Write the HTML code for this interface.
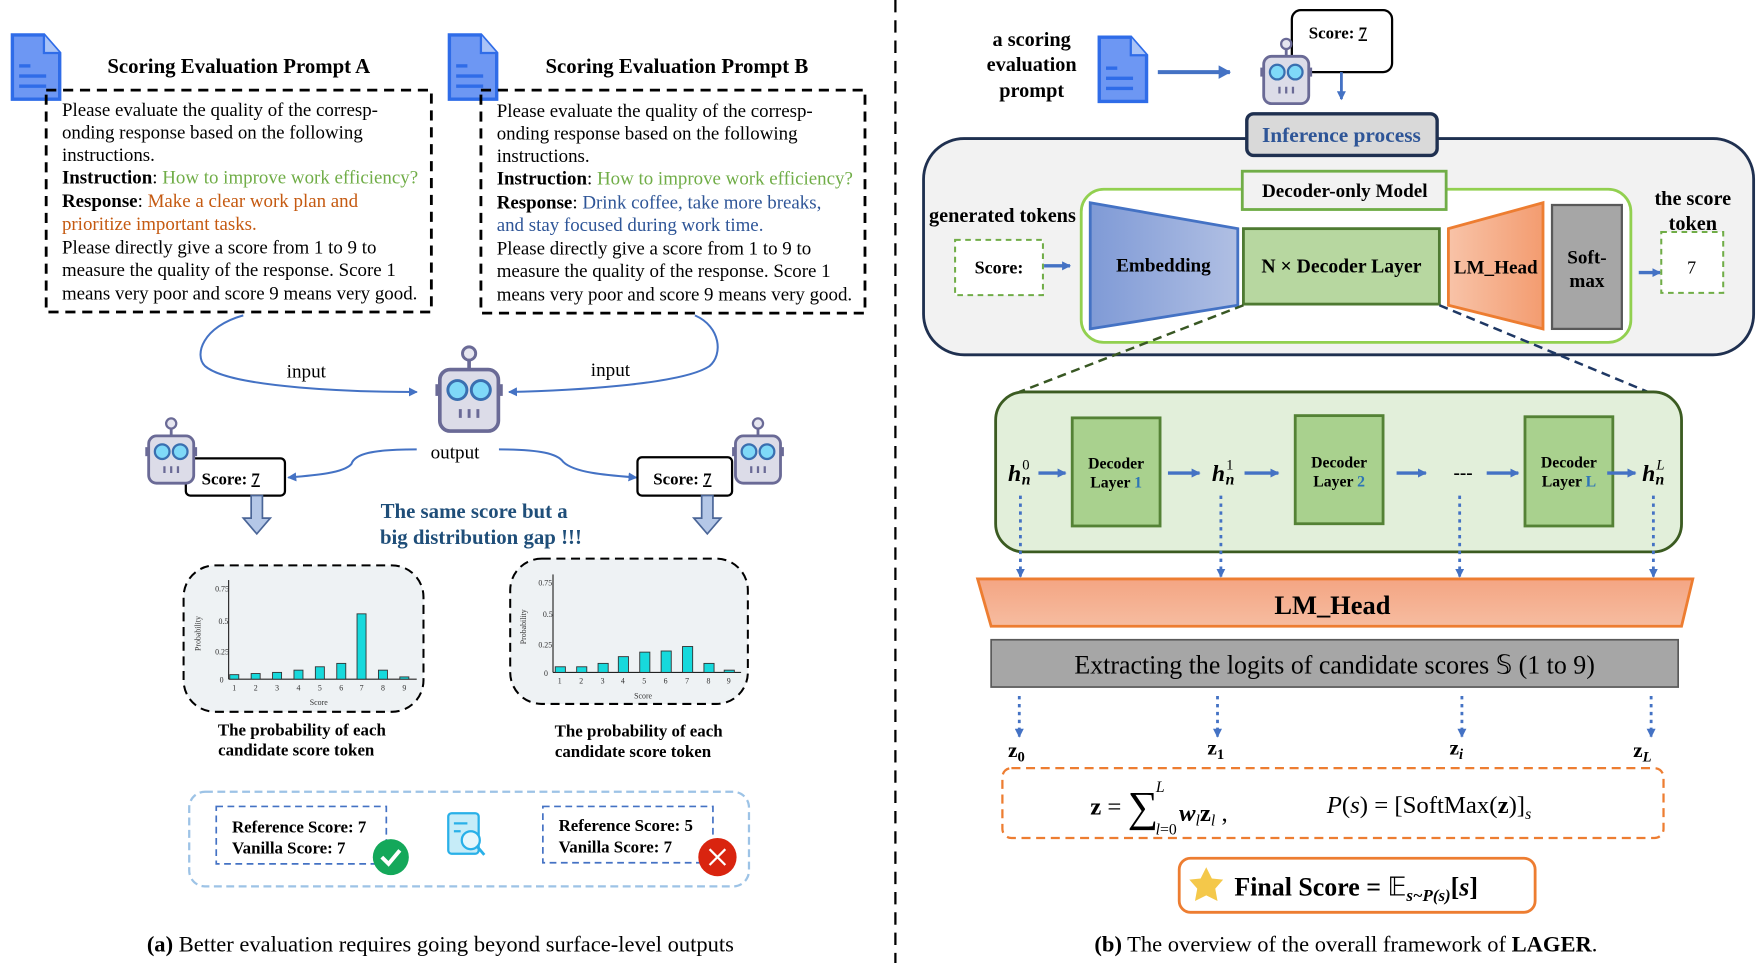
<!DOCTYPE html>
<html><head><meta charset="utf-8"><style>
html,body{margin:0;padding:0;background:#fff;}
svg{display:block;}
text{font-family:"Liberation Serif",serif;}
</style></head><body>
<svg width="1757" height="963" viewBox="0 0 1560 855" xmlns="http://www.w3.org/2000/svg">
<defs>
<marker id="ab" markerWidth="8" markerHeight="8" refX="7" refY="4" orient="auto" markerUnits="userSpaceOnUse"><path d="M0,0 L8,4 L0,8 z" fill="#4472c4"/></marker>
<marker id="ab2" markerWidth="12" markerHeight="12" refX="10" refY="6" orient="auto" markerUnits="userSpaceOnUse"><path d="M0,0 L11,6 L0,12 z" fill="#4472c4"/></marker>
<linearGradient id="emb" x1="0" x2="1"><stop offset="0" stop-color="#7f9ad6"/><stop offset="1" stop-color="#b0bfe3"/></linearGradient>
<linearGradient id="lmh" x1="0" x2="1"><stop offset="0" stop-color="#f8c3a8"/><stop offset="1" stop-color="#f39c70"/></linearGradient>
<linearGradient id="lmh2" x1="0" y1="0" x2="0" y2="1"><stop offset="0" stop-color="#f4a583"/><stop offset="1" stop-color="#f6bca0"/></linearGradient>
<g id="doc"><path d="M0,0 H28 L42,16 V57 H0 Z" fill="#6d97f3" stroke="#2f6ce8" stroke-width="3"/><path d="M28,0 V16 H42" fill="#a9c3f7" stroke="#2f6ce8" stroke-width="2"/><rect x="6" y="26" width="10" height="3" fill="#2f6ce8"/><rect x="6" y="35" width="24" height="3" fill="#2f6ce8"/><rect x="6" y="44" width="24" height="3" fill="#2f6ce8"/></g>
<g id="robot"><line x1="25" y1="8" x2="25" y2="18" stroke="#6a6a96" stroke-width="2.5"/><circle cx="25" cy="6" r="4.5" fill="#e6e6f0" stroke="#6a6a96" stroke-width="2"/><rect x="2" y="27" width="4" height="8" fill="#6a6a96"/><rect x="44" y="27" width="4" height="8" fill="#6a6a96"/><rect x="5" y="17" width="40" height="42" rx="7" fill="#dcdce8" stroke="#6a6a96" stroke-width="2.5"/><circle cx="17" cy="31" r="6.5" fill="#7fd9f8" stroke="#3a6fb0" stroke-width="2"/><circle cx="33" cy="31" r="6.5" fill="#7fd9f8" stroke="#3a6fb0" stroke-width="2"/><path d="M19,44v6M25,44v6M31,44v6" stroke="#6a6a96" stroke-width="2"/></g>
</defs>

<!-- ===== LEFT PANEL ===== -->
<use href="#doc" x="11" y="31"/>
<use href="#doc" x="399" y="31"/>
<text x="212" y="65" font-size="18.5" font-weight="bold" text-anchor="middle">Scoring Evaluation Prompt A</text>
<text x="601" y="65" font-size="18.5" font-weight="bold" text-anchor="middle">Scoring Evaluation Prompt B</text>
<rect x="41" y="80" width="342" height="197" fill="none" stroke="#000" stroke-width="2.5" stroke-dasharray="9,6"/>
<rect x="427" y="80" width="341" height="198" fill="none" stroke="#000" stroke-width="2.5" stroke-dasharray="9,6"/>
<g font-size="16.8">
<text x="55" y="103">Please evaluate the quality of the corresp-</text>
<text x="55" y="123">onding response based on the following</text>
<text x="55" y="143">instructions.</text>
<text x="55" y="163"><tspan font-weight="bold">Instruction</tspan>: <tspan fill="#70ad47">How to improve work efficiency?</tspan></text>
<text x="55" y="184"><tspan font-weight="bold">Response</tspan>: <tspan fill="#c55a11">Make a clear work plan and</tspan></text>
<text x="55" y="204" fill="#c55a11">prioritize important tasks.</text>
<text x="55" y="225">Please directly give a score from 1 to 9 to</text>
<text x="55" y="245">measure the quality of the response. Score 1</text>
<text x="55" y="266">means very poor and score 9 means very good.</text>
<text x="441" y="104">Please evaluate the quality of the corresp-</text>
<text x="441" y="124">onding response based on the following</text>
<text x="441" y="144">instructions.</text>
<text x="441" y="164"><tspan font-weight="bold">Instruction</tspan>: <tspan fill="#70ad47">How to improve work efficiency?</tspan></text>
<text x="441" y="185"><tspan font-weight="bold">Response</tspan>: <tspan fill="#2e5597">Drink coffee, take more breaks,</tspan></text>
<text x="441" y="205" fill="#2e5597">and stay focused during work time.</text>
<text x="441" y="226">Please directly give a score from 1 to 9 to</text>
<text x="441" y="246">measure the quality of the response. Score 1</text>
<text x="441" y="267">means very poor and score 9 means very good.</text>
</g>
<path d="M216,280 C180,290 172,315 182,325 C205,345 320,348 370,348" fill="none" stroke="#4472c4" stroke-width="1.8" marker-end="url(#ab)"/>
<path d="M617,280 C640,290 642,315 630,325 C605,342 500,347 452,348" fill="none" stroke="#4472c4" stroke-width="1.8" marker-end="url(#ab)"/>
<text x="272" y="335" font-size="17" text-anchor="middle">input</text>
<text x="542" y="334" font-size="17" text-anchor="middle">input</text>
<use href="#robot" x="384" y="306" transform="translate(384,306) scale(1.3) translate(-384,-306)"/>
<text x="404" y="407" font-size="17" text-anchor="middle">output</text>
<path d="M370,399 C330,399 315,403 312,412 C305,420 280,422 256,424" fill="none" stroke="#4472c4" stroke-width="1.8" marker-end="url(#ab)"/>
<path d="M443,399 C480,399 495,403 500,410 C510,420 540,422 565,424" fill="none" stroke="#4472c4" stroke-width="1.8" marker-end="url(#ab)"/>
<rect x="165" y="407" width="88" height="33" rx="4" fill="#fff" stroke="#000" stroke-width="2"/>
<text x="179" y="430" font-size="15" font-weight="bold">Score: <tspan text-decoration="underline">7</tspan></text>
<rect x="566" y="406" width="84" height="34" rx="4" fill="#fff" stroke="#000" stroke-width="2"/>
<text x="580" y="430" font-size="15" font-weight="bold">Score: <tspan text-decoration="underline">7</tspan></text>
<use href="#robot" x="127" y="370"/>
<use href="#robot" x="648" y="370"/>
<path d="M223,440 h10 v20 h7 l-12,14 l-12,-14 h7 z" fill="#b4c7e7" stroke="#4a6597" stroke-width="1.5"/>
<path d="M623,440 h10 v20 h7 l-12,14 l-12,-14 h7 z" fill="#b4c7e7" stroke="#4a6597" stroke-width="1.5"/>
<text x="421" y="460" font-size="18.5" font-weight="bold" fill="#1f4e79" text-anchor="middle">The same score but a</text>
<text x="427" y="483" font-size="18.5" font-weight="bold" fill="#1f4e79" text-anchor="middle">big distribution gap !!!</text>

<!-- charts -->
<rect x="163" y="502" width="213" height="130" rx="28" fill="#eef2f4" stroke="#000" stroke-width="1.8" stroke-dasharray="8,5"/>
<rect x="453" y="496" width="211" height="129" rx="28" fill="#eef2f4" stroke="#000" stroke-width="1.8" stroke-dasharray="8,5"/>
<g font-family="Liberation Sans" font-size="7" fill="#333">
<line x1="203" y1="515" x2="203" y2="603" stroke="#222"/><line x1="203" y1="603" x2="370" y2="603" stroke="#222"/>
<text x="191" y="525">0.75</text><text x="194" y="554">0.5</text><text x="191" y="581">0.25</text><text x="195" y="606">0</text>
<text x="178" y="578" transform="rotate(-90 178 578)">Probability</text>
<text x="283" y="626" text-anchor="middle">Score</text>
<line x1="491" y1="510" x2="491" y2="597" stroke="#222"/><line x1="491" y1="597" x2="658" y2="597" stroke="#222"/>
<text x="478" y="520">0.75</text><text x="482" y="548">0.5</text><text x="478" y="575">0.25</text><text x="483" y="600">0</text>
<text x="467" y="572" transform="rotate(-90 467 572)">Probability</text>
<text x="571" y="620" text-anchor="middle">Score</text>
</g>
<g fill="#17d9dc" stroke="#333" stroke-width="0.8">
<rect x="204" y="599" width="8" height="4"/><rect x="223" y="598" width="8" height="5"/><rect x="242" y="597" width="8" height="6"/><rect x="261" y="595" width="8" height="8"/><rect x="280" y="592" width="8" height="11"/><rect x="299" y="589" width="8" height="14"/><rect x="317" y="545" width="8" height="58"/><rect x="336" y="595" width="8" height="8"/><rect x="355" y="601" width="8" height="2"/>
</g>
<g font-family="Liberation Sans" font-size="7" fill="#333" text-anchor="middle">
<text x="208" y="613">1</text><text x="227" y="613">2</text><text x="246" y="613">3</text><text x="265" y="613">4</text><text x="284" y="613">5</text><text x="303" y="613">6</text><text x="321" y="613">7</text><text x="340" y="613">8</text><text x="359" y="613">9</text>
<text x="497" y="607">1</text><text x="516" y="607">2</text><text x="535" y="607">3</text><text x="553" y="607">4</text><text x="572" y="607">5</text><text x="591" y="607">6</text><text x="610" y="607">7</text><text x="629" y="607">8</text><text x="647" y="607">9</text>
</g>
<g fill="#17d9dc" stroke="#333" stroke-width="0.8">
<rect x="493" y="592" width="9" height="5"/><rect x="512" y="592" width="9" height="5"/><rect x="531" y="589" width="9" height="8"/><rect x="549" y="583" width="9" height="14"/><rect x="568" y="579" width="9" height="18"/><rect x="587" y="578" width="9" height="19"/><rect x="606" y="574" width="9" height="23"/><rect x="625" y="589" width="9" height="8"/><rect x="643" y="595" width="9" height="2"/>
</g>
<text x="268" y="653" font-size="15" font-weight="bold" text-anchor="middle">The probability of each</text>
<text x="263" y="671" font-size="15" font-weight="bold" text-anchor="middle">candidate score token</text>
<text x="567" y="654" font-size="15" font-weight="bold" text-anchor="middle">The probability of each</text>
<text x="562" y="672" font-size="15" font-weight="bold" text-anchor="middle">candidate score token</text>

<rect x="168" y="703" width="497" height="84" rx="14" fill="none" stroke="#9dc3e6" stroke-width="2" stroke-dasharray="7,4"/>
<rect x="192" y="716" width="151" height="51" fill="none" stroke="#4472c4" stroke-width="1.5" stroke-dasharray="6,4"/>
<rect x="482" y="716" width="151" height="50" fill="none" stroke="#4472c4" stroke-width="1.5" stroke-dasharray="6,4"/>
<text x="206" y="739" font-size="15" font-weight="bold">Reference Score: 7</text>
<text x="206" y="758" font-size="15" font-weight="bold">Vanilla Score: 7</text>
<text x="496" y="738" font-size="15" font-weight="bold">Reference Score: 5</text>
<text x="496" y="757" font-size="15" font-weight="bold">Vanilla Score: 7</text>
<circle cx="347" cy="761" r="16" fill="#14a85a"/><path d="M339,761 l6,6 l10,-12" fill="none" stroke="#fff" stroke-width="3.5"/>
<circle cx="637" cy="761" r="17" fill="#d9240f"/><path d="M630,754 l14,14 M644,754 l-14,14" stroke="#fff" stroke-width="2"/>
<rect x="398" y="722" width="27" height="36" rx="3" fill="#c6ecf8" stroke="#29b0e8" stroke-width="2"/>
<path d="M403,731h12M403,738h6" stroke="#29b0e8" stroke-width="2"/>
<circle cx="418" cy="746" r="8" fill="#e6f7fc" stroke="#29b0e8" stroke-width="2"/><path d="M424,752l6,7" stroke="#29b0e8" stroke-width="2.5"/>
<text x="391" y="845" font-size="20" text-anchor="middle"><tspan font-weight="bold">(a)</tspan> Better evaluation requires going beyond surface-level outputs</text>

<line x1="795" y1="0" x2="795" y2="855" stroke="#000" stroke-width="2" stroke-dasharray="11,7"/>

<!-- ===== RIGHT PANEL ===== -->
<g font-size="18" font-weight="bold" text-anchor="middle">
<text x="916" y="41">a scoring</text><text x="916" y="63">evaluation</text><text x="916" y="86">prompt</text></g>
<use href="#doc" x="976" y="33"/>
<line x1="1028" y1="64" x2="1092" y2="64" stroke="#4472c4" stroke-width="3.5" marker-end="url(#ab2)"/>
<rect x="1147" y="9" width="89" height="55" rx="8" fill="#fff" stroke="#000" stroke-width="2"/>
<text x="1162" y="34" font-size="15" font-weight="bold">Score: <tspan text-decoration="underline">7</tspan></text>
<use href="#robot" x="1117" y="33"/>
<line x1="1191" y1="64" x2="1191" y2="88" stroke="#4472c4" stroke-width="2.5" marker-end="url(#ab)"/>
<rect x="820" y="123" width="737" height="192" rx="36" fill="#f2f2f2" stroke="#1f3050" stroke-width="2.5"/>
<rect x="1107" y="101" width="169" height="37" rx="6" fill="#d9d9d9" stroke="#1f3050" stroke-width="3"/>
<text x="1191" y="126" font-size="19" font-weight="bold" fill="#2e5597" text-anchor="middle">Inference process</text>
<rect x="960" y="168" width="488" height="136" rx="20" fill="#fff" stroke="#92d050" stroke-width="2.5"/>
<rect x="1103" y="152" width="181" height="34" fill="#f2f2f2" stroke="#70ad47" stroke-width="2.5"/>
<text x="1194" y="175" font-size="17" font-weight="bold" text-anchor="middle">Decoder-only Model</text>
<text x="890" y="197" font-size="18" font-weight="bold" text-anchor="middle">generated tokens</text>
<rect x="848" y="213" width="78" height="49" fill="#fff" stroke="#70ad47" stroke-width="1.8" stroke-dasharray="5,4"/>
<text x="887" y="243" font-size="16" font-weight="bold" text-anchor="middle">Score:</text>
<line x1="927" y1="236" x2="950" y2="236" stroke="#4472c4" stroke-width="3" marker-end="url(#ab)"/>
<path d="M968,180 L1099,203 L1099,271 L968,292 Z" fill="url(#emb)" stroke="#4472c4" stroke-width="2.5"/>
<text x="1033" y="241" font-size="17" font-weight="bold" text-anchor="middle">Embedding</text>
<rect x="1104" y="203" width="174" height="67" fill="#b7d7a0" stroke="#4e7a32" stroke-width="2.5"/>
<text x="1191" y="242" font-size="17.5" font-weight="bold" text-anchor="middle">N ×  Decoder Layer</text>
<path d="M1286,203 L1370,180 L1370,292 L1286,271 Z" fill="url(#lmh)" stroke="#ed7d31" stroke-width="2.5"/>
<text x="1328" y="243" font-size="17" font-weight="bold" text-anchor="middle">LM_Head</text>
<rect x="1378" y="182" width="62" height="110" fill="#a6a6a6" stroke="#595959" stroke-width="2"/>
<text x="1409" y="234" font-size="17" font-weight="bold" text-anchor="middle">Soft-</text>
<text x="1409" y="255" font-size="17" font-weight="bold" text-anchor="middle">max</text>
<text x="1503" y="182" font-size="18" font-weight="bold" text-anchor="middle">the score</text>
<text x="1503" y="204" font-size="18" font-weight="bold" text-anchor="middle">token</text>
<line x1="1455" y1="242" x2="1474" y2="242" stroke="#4472c4" stroke-width="3" marker-end="url(#ab)"/>
<rect x="1475" y="206" width="55" height="54" fill="#fff" stroke="#70ad47" stroke-width="1.8" stroke-dasharray="5,4"/>
<text x="1502" y="243" font-size="16" text-anchor="middle">7</text>
<line x1="1104" y1="271" x2="905" y2="348" stroke="#385723" stroke-width="2.2" stroke-dasharray="8,5"/>
<line x1="1278" y1="271" x2="1480" y2="355" stroke="#1f3864" stroke-width="2.2" stroke-dasharray="8,5"/>
<rect x="884" y="348" width="609" height="142" rx="25" fill="#e2efda" stroke="#3b5b21" stroke-width="2.5"/>
<g fill="#a9d18e" stroke="#548235" stroke-width="2.5">
<rect x="952" y="371" width="78" height="96"/><rect x="1150" y="369" width="78" height="96"/><rect x="1354" y="370" width="78" height="97"/></g>
<g font-size="14" font-weight="bold" text-anchor="middle">
<text x="991" y="416">Decoder</text><text x="991" y="433">Layer <tspan fill="#2e75b6">1</tspan></text>
<text x="1189" y="415">Decoder</text><text x="1189" y="432">Layer <tspan fill="#2e75b6">2</tspan></text>
<text x="1393" y="415">Decoder</text><text x="1393" y="432">Layer <tspan fill="#2e75b6">L</tspan></text></g>
<g font-size="21" font-weight="bold" font-style="italic">
<text x="895" y="427">h<tspan font-size="13" font-style="normal" font-weight="normal" dy="-10" dx="1">0</tspan><tspan font-size="14" dy="13" dx="-7">n</tspan></text>
<text x="1076" y="427">h<tspan font-size="13" font-style="normal" font-weight="normal" dy="-10" dx="1">1</tspan><tspan font-size="14" dy="13" dx="-7">n</tspan></text>
<text x="1458" y="427">h<tspan font-size="13" font-weight="normal" dy="-10" dx="1">L</tspan><tspan font-size="14" dy="13" dx="-8">n</tspan></text></g>
<text x="1299" y="425" font-size="17" font-weight="bold" text-anchor="middle">---</text>
<g stroke="#4472c4" stroke-width="3" marker-end="url(#ab)">
<line x1="922" y1="420" x2="946" y2="420"/><line x1="1037" y1="420" x2="1065" y2="420"/><line x1="1105" y1="420" x2="1135" y2="420"/><line x1="1240" y1="420" x2="1266" y2="420"/><line x1="1320" y1="420" x2="1348" y2="420"/><line x1="1427" y1="420" x2="1452" y2="420"/></g>
<g stroke="#4472c4" stroke-width="2.5" stroke-dasharray="3,4" fill="none" marker-end="url(#ab)">
<line x1="906" y1="440" x2="906" y2="512"/><line x1="1084" y1="440" x2="1084" y2="512"/><line x1="1296" y1="440" x2="1296" y2="512"/><line x1="1468" y1="440" x2="1468" y2="512"/>
<line x1="905" y1="618" x2="905" y2="654"/><line x1="1081" y1="618" x2="1081" y2="654"/><line x1="1298" y1="618" x2="1298" y2="654"/><line x1="1466" y1="618" x2="1466" y2="654"/></g>
<path d="M868,514 L1503,514 L1493,556 L880,556 Z" fill="url(#lmh2)" stroke="#ed7d31" stroke-width="2.5"/>
<text x="1183" y="545" font-size="23.5" font-weight="bold" text-anchor="middle">LM_Head</text>
<rect x="880" y="568" width="610" height="42" fill="#a6a6a6" stroke="#595959" stroke-width="1.5"/>
<text x="1185" y="598" font-size="23" text-anchor="middle">Extracting the logits of candidate scores 𝕊 (1 to 9)</text>
<g font-size="19" font-weight="bold">
<text x="895" y="672">z<tspan font-size="13" dy="4">0</tspan></text>
<text x="1072" y="670">z<tspan font-size="13" dy="4">1</tspan></text>
<text x="1287" y="670">z<tspan font-size="13" font-style="italic" dy="4">i</tspan></text>
<text x="1450" y="672">z<tspan font-size="13" font-style="italic" dy="4">L</tspan></text></g>
<rect x="890" y="682" width="587" height="62" rx="8" fill="none" stroke="#ed7d31" stroke-width="2" stroke-dasharray="8,5"/>
<text x="968" y="723" font-size="22"><tspan font-weight="bold">z</tspan> = <tspan font-size="38" dy="6">∑</tspan><tspan font-size="14" font-style="italic" dy="-26" dx="-2">L</tspan><tspan font-size="14" font-style="italic" dy="38" dx="-8">l</tspan><tspan font-size="14" dy="0">=0</tspan><tspan dy="-12" dx="2" font-weight="bold" font-style="italic">w</tspan><tspan font-size="14" font-style="italic" dy="4">l</tspan><tspan dy="-4" font-weight="bold">z</tspan><tspan font-size="14" font-style="italic" dy="4">l</tspan><tspan dy="-4"> ,</tspan></text>
<text x="1178" y="722" font-size="22"><tspan font-style="italic">P</tspan>(<tspan font-style="italic">s</tspan>) = [SoftMax(<tspan font-weight="bold">z</tspan>)]<tspan font-size="14" font-style="italic" dy="5">s</tspan></text>
<rect x="1047" y="762" width="316" height="48" rx="10" fill="#fff" stroke="#ed7d31" stroke-width="2.5"/>
<path d="M1071,770 l5,10 l10,1 l-7,8 l2,11 l-10,-5 l-10,5 l2,-11 l-7,-8 l10,-1 z" fill="#f4c84a"/>
<text x="1096" y="795" font-size="23" font-weight="bold">Final Score = <tspan font-weight="normal">𝔼</tspan><tspan font-size="15" font-style="italic" dy="5">s~P(s)</tspan><tspan dy="-5">[</tspan><tspan font-style="italic">s</tspan>]</text>
<text x="1195" y="845" font-size="20" text-anchor="middle"><tspan font-weight="bold">(b)</tspan> The overview of the overall framework of  <tspan font-weight="bold">LAGER</tspan>.</text>
</svg>
</body></html>
